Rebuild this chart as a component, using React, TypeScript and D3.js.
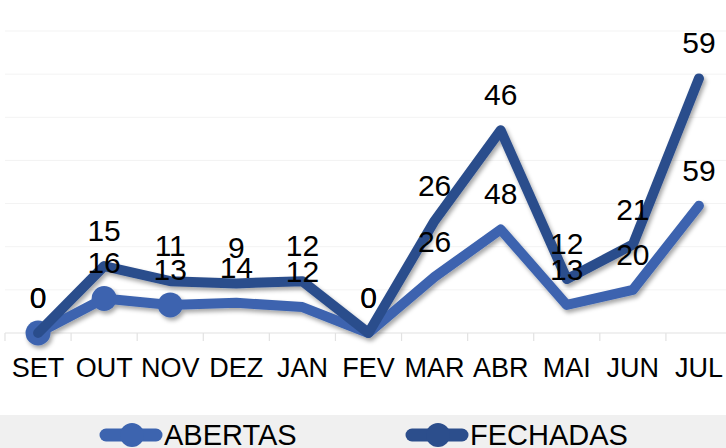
import React from "react";
import * as d3 from "d3";

const categories = ["SET", "OUT", "NOV", "DEZ", "JAN", "FEV", "MAR", "ABR", "MAI", "JUN", "JUL"];
const abertas = [0, 16, 13, 14, 12, 0, 26, 48, 13, 20, 59];
const fechadas = [0, 15, 11, 9, 12, 0, 26, 46, 12, 21, 59];
const abertasMarkers = [true, true, true, false, false, false, false, false, false, false, false];
const yTicks = [0, 20, 40, 60, 80, 100, 120, 140];

const LIGHT = "#3D64AF";
const DARK = "#2C4E8C";

export default function App() {
  const W = 726, H = 448;
  const x = d3.scaleBand<string>().domain(categories).range([5, 732]).padding(0);
  const bw = x.bandwidth();
  const cx = (c: string) => (x(c) as number) + bw / 2;
  const y = d3.scaleLinear().domain([0, 140]).range([333, 31]);

  const rows = categories.map((c, i) => ({ cat: c, ABERTAS: abertas[i], FECHADAS: fechadas[i] }));
  const stack = d3.stack<any>().keys(["ABERTAS", "FECHADAS"]);
  const series = stack(rows);
  const aTop = series[0].map((d) => d[1]);
  const fTop = series[1].map((d) => d[1]);

  const line = d3
    .line<number>()
    .x((_, i) => cx(categories[i]))
    .y((v) => y(v));

  return (
    <svg
      width={W}
      height={H}
      style={{ position: "absolute", left: 0, top: 0, background: "#fff" }}
      fontFamily="'Liberation Sans', Arial, sans-serif"
    >
      <defs>
        <filter id="shadow" x="-10%" y="-10%" width="120%" height="130%">
          <feDropShadow dx="2" dy="3" stdDeviation="2" floodColor="#000" floodOpacity="0.35" />
        </filter>
      </defs>
      {yTicks.slice(1).map((t) => (
        <line key={t} x1={5} x2={W} y1={y(t)} y2={y(t)} stroke="#F3F3F3" strokeWidth={1} />
      ))}
      <line x1={5} x2={W} y1={y(0)} y2={y(0)} stroke="#E2E2E2" strokeWidth={1.2} />
      {categories.map((c) => (
        <line key={c} x1={x(c) as number} x2={x(c) as number} y1={y(0)} y2={y(0) + 8} stroke="#E2E2E2" strokeWidth={1.2} />
      ))}
      <g filter="url(#shadow)">
        <path d={line(aTop) as string} fill="none" stroke={LIGHT} strokeWidth={10} strokeLinejoin="round" strokeLinecap="round" />
        {aTop.map((v, i) =>
          abertasMarkers[i] ? <circle key={i} cx={cx(categories[i])} cy={y(v)} r={12.5} fill={LIGHT} /> : null
        )}
        <path d={line(fTop) as string} fill="none" stroke={DARK} strokeWidth={10} strokeLinejoin="round" strokeLinecap="round" />
      </g>
      {aTop.map((v, i) => (
        <text key={"a" + i} x={cx(categories[i])} y={y(v) - 25} textAnchor="middle" fontSize={30} fill="#000">
          {abertas[i]}
        </text>
      ))}
      {fTop.map((v, i) => (
        <text key={"f" + i} x={cx(categories[i])} y={y(v) - 25} textAnchor="middle" fontSize={30} fill="#000">
          {fechadas[i]}
        </text>
      ))}
      {categories.map((c) => (
        <text key={c} x={cx(c)} y={377} textAnchor="middle" fontSize={27} fill="#000">
          {c}
        </text>
      ))}
      <rect x={0} y={415} width={W} height={H - 415} fill="#F0F0F0" />
      <g>
        <line x1={106} x2={156} y1={435} y2={435} stroke={LIGHT} strokeWidth={13} strokeLinecap="round" />
        <circle cx={132} cy={435} r={12} fill={LIGHT} />
        <text x={164} y={445} fontSize={29} fill="#000">ABERTAS</text>
        <line x1={412} x2={462} y1={435} y2={435} stroke={DARK} strokeWidth={13} strokeLinecap="round" />
        <circle cx={438} cy={435} r={12} fill={DARK} />
        <text x={470} y={445} fontSize={29} fill="#000">FECHADAS</text>
      </g>
    </svg>
  );
}
